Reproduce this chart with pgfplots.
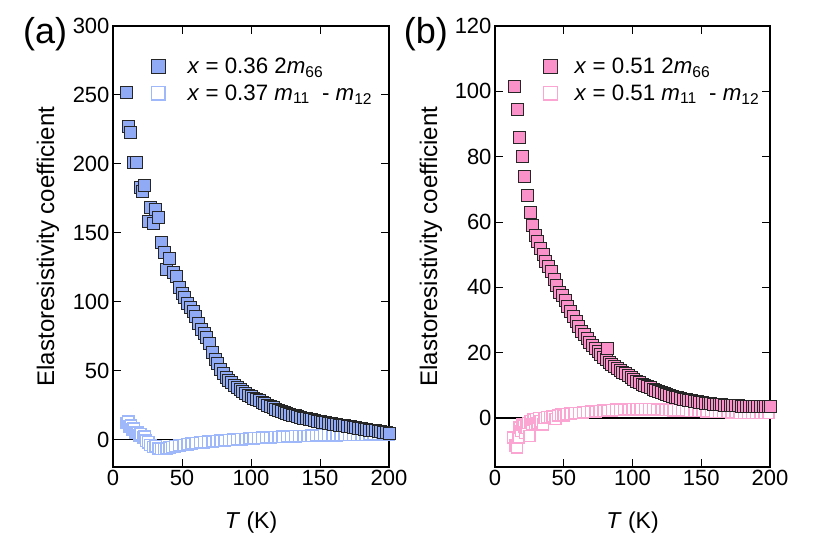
\documentclass[border=0pt]{standalone}
\usepackage{pgfplots}
\pgfplotsset{compat=1.18}
\usepackage{fontspec}
\setmainfont{Liberation Sans}
\definecolor{fblue}{RGB}{144,170,245}
\definecolor{oblue}{RGB}{158,184,250}
\definecolor{fpink}{RGB}{250,145,200}
\definecolor{opink}{RGB}{250,165,210}
\pgfplotsset{
  legimgw/.initial=40pt,
  panel/.style={
    scale only axis, anchor=south west,
    xmin=0, xmax=200, xtick={0,50,...,200},
    tick align=inside, major tick length=8pt,
    tick style={black, line width=1pt},
    axis line style={black, line width=1.2pt},
    ticklabel style={font=\fontsize{22}{26}\selectfont},
    /pgf/number format/assume math mode=true,
    xlabel={\textit{T} (K)},
    ylabel={Elastoresistivity coefficient},
    every axis x label/.style={at={(rel axis cs:0.5,0)}, anchor=center, yshift=-56pt, font=\fontsize{23}{27}\selectfont},
    legend style={draw=none, fill=none, font=\fontsize{22.3}{26}\selectfont, anchor=north west, row sep=6pt, inner sep=0pt,
      nodes={inner sep=2pt}},
    legend cell align=left,
    clip=false,
  },
  legcode/.style={legend image code/.code={\path (0pt,0pt) (\pgfkeysvalueof{/pgfplots/legimgw},0pt); \draw[mark repeat=2,mark phase=2,##1, mark size=6.8pt] plot coordinates {(0pt,0pt) (13pt,0pt) (26pt,0pt)};}},
  fmark/.style={only marks, mark=square*, mark size=6pt, mark options={draw=black!85, line width=0.9pt, fill=#1}, legcode},
  omark/.style={only marks, mark=square*, mark size=5.6pt, mark options={draw=#1, fill=white, line width=1.5pt}, legcode},
}
\begin{document}
\begin{tikzpicture}
\useasboundingbox (0,0) rectangle (830pt,547pt);
\begin{axis}[panel, at={(113pt,80pt)}, width=276pt, height=441pt,
  ymin=-20, ymax=300, ytick={0,50,...,300},
  every axis y label/.style={at={(rel axis cs:-0.236,0.5)}, rotate=90, anchor=center, font=\fontsize{24}{28}\selectfont},
  legend style={at={(rel axis cs:0.116,0.933)}}]
\addplot[black, line width=1.2pt, forget plot] coordinates {(0,0) (200,0)};
\addlegendimage{fmark=fblue}
\addlegendentry{\textit{x} = 0.36 2\textit{m}\textsubscript{66}}
\addlegendimage{omark=oblue}
\addlegendentry{\textit{x} = 0.37 \textit{m}\textsubscript{11}\ \ - \textit{m}\textsubscript{12}}
\addplot[omark=oblue, forget plot] coordinates {
(10,12) (11,13) (12,9.6) (13,10) (14,7) (15,8) (16.5,5) (18,5) (19,3) (20,4) (22,1.5) (23,2) (24,-1) (25.5,-2) (27,-4) (29,-5.5) (31,-5) (33,-6.5) (35,-7) (37,-7) (39,-6.5) (41,-6) (43,-5.5) (45,-5) (48,-4.5) (51,-4) (54,-3.5) (57,-3) (60,-2.5) (63,-2.2) (66,-2) (69,-1.7) (72,-1.5) (75,-1.2) (78,-1) (81,-0.7) (84,-0.4) (87,-0.2) (90,0) (93,0.2) (96,0.4) (99,0.6) (102,0.8) (105,1) (108,1.2) (111,1.4) (114,1.5) (117,1.7) (120,1.8) (123,2) (126,2.1) (129,2.2) (132,2.3) (135,2.4) (138,2.5) (141,2.6) (144,2.7) (147,2.8) (150,2.9) (153,3) (156,3) (159,3.1) (162,3.1) (165,3.2) (168,3.2) (171,3.3) (174,3.3) (177,3.4) (180,3.4) (183,3.4) (186,3.5) (189,3.5) (192,3.5) (195,3.6) (198,3.6) (200,3.6)};
\addplot[fmark=fblue, forget plot] coordinates {
(10,252) (11.5,227) (13,223) (15,201) (17,201) (20,183) (21,180) (23,184) (26,158) (27,168) (29,157) (31,167) (33,161) (35,143) (37,136) (39,123) (41,131) (44,121)
(46,118) (48,110) (50,106) (52,103) (54,99) (56,96) (58,93) (60,89) (62,84) (64,80) (66,77) (68,74) (70,70) (72,63) (74,58) (76,55) (78,51) (80,48) (82,45) (84,43) (86,41) (88,39.5) (90,38) (92,36) (94,35) (96,33.5) (98,32) (100,31) (102,30) (104,29) (106,28) (108,27) (110,26) (112,25) (114,24) (116,23) (118,22) (120,21) (122,20) (124,19.5) (126,19) (128,18.3) (130,17.7) (132,17.2) (134,16.6) (136,16) (138,15.5) (140,15) (142,14.6) (144,14.2) (146,13.8) (148,13.3) (150,13) (152,12.5) (154,12.2) (156,11.8) (158,11.4) (160,11) (162,10.7) (164,10.4) (166,10.1) (168,9.8) (170,9.5) (172,9.2) (174,8.9) (176,8.5) (178,8.2) (180,7.9) (182,7.5) (184,7.2) (186,6.8) (188,6.5) (190,6.2) (192,5.9) (194,5.6) (196,5.3) (198,5) (200,4.7)};
\node[font=\fontsize{36}{40}\selectfont] at (rel axis cs:-0.246,0.982) {(a)};
\end{axis}
\begin{axis}[panel, at={(495pt,80pt)}, width=275pt, height=441pt,
  ymin=-15, ymax=120, ytick={0,20,...,120}, legimgw=35pt,
  every axis y label/.style={at={(rel axis cs:-0.233,0.5)}, rotate=90, anchor=center, font=\fontsize{24}{28}\selectfont},
  legend style={at={(rel axis cs:0.153,0.933)}}]
\addplot[black, line width=1.2pt, forget plot] coordinates {(0,0) (200,0)};
\addlegendimage{fmark=fpink}
\addlegendentry{\textit{x} = 0.51 2\textit{m}\textsubscript{66}}
\addlegendimage{omark=opink}
\addlegendentry{\textit{x} = 0.51 \textit{m}\textsubscript{11}\ \ - \textit{m}\textsubscript{12}}
\addplot[omark=opink, forget plot] coordinates {
(13,-6) (15,-8.5) (16,-9) (17,-6) (18,-3) (19,-4) (20,-2) (21,-2.5) (22,-4.5) (23,-3) (24,-1.5) (25,-5.5) (26,-1) (27,-2) (28,-0.5) (29,-2) (30,-0.3) (31,-1.5) (32,0) (33,-1) (35,-2) (36,0) (38,0.3) (40,0.3) (42,0.5) (44,-0.3) (46,0.8) (48,1) (50,0.8) (52,1.2) (55,1.3) (58,1.5) (61,1.5) (64,1.7) (67,1.8) (70,1.9) (73,2) (76,2.1) (79,2.2) (82,2.3) (85,2.4) (88,2.5) (91,2.5) (94,2.6) (97,2.6) (100,2.7) (103,2.7) (106,2.7) (109,2.7) (112,2.7) (115,2.7) (118,2.6) (121,2.6) (124,2.5) (127,2.5) (130,2.4) (133,2.4) (136,2.3) (139,2.3) (142,2.2) (145,2.2) (148,2.1) (151,2.1) (154,2) (157,2) (160,1.9) (163,1.9) (166,1.8) (169,1.8) (172,1.7) (175,1.7) (178,1.6) (181,1.6) (184,1.6) (187,1.5) (190,1.5) (193,1.5) (196,1.5) (199,1.5)};
\addplot[fmark=fpink, forget plot] coordinates {
(14,101.5) (16,94.5) (18,86) (19.6,80) (21.5,74) (23.5,68) (25.5,63) (27.5,59) (29.5,56) (31,54) (33,52) (35,50) (37,48) (39,46.5) (41,45) (43,42.5) (45,40.5) (47,38.5) (49,37.5) (51,36) (53,34) (55,32.5) (57,31) (59,29.5) (61,28) (63,26.5) (65,25.5) (67,24.3) (69,23.2) (71,22.2) (73,21.2) (75,20.3) (77,19.4) (79,18.6) (81,17.8) (82,21.4) (83,17.1) (85,16.4) (87,15.8) (89,15.2) (91,14.6) (93,14) (95,13.5) (97,13) (99,12.4) (101,11.8) (103,11.3) (105,10.8) (107,10.4) (109,10) (111,9.6) (113,9.2) (115,8.8) (117,8.5) (119,8.1) (121,7.8) (123,7.5) (125,7.2) (127,6.9) (129,6.6) (131,6.4) (133,6.2) (135,6) (137,5.8) (139,5.6) (141,5.4) (143,5.3) (145,5.1) (147,5) (149,4.9) (151,4.7) (153,4.6) (155,4.5) (157,4.4) (159,4.3) (161,4.2) (163,4.1) (165,4) (167,3.95) (169,3.9) (171,3.85) (173,3.8) (175,3.75) (177,3.7) (179,3.65) (181,3.6) (183,3.55) (185,3.5) (187,3.5) (189,3.45) (191,3.45) (193,3.4) (195,3.4) (197,3.4) (199,3.4) (200,3.5)};
\node[font=\fontsize{36}{40}\selectfont] at (rel axis cs:-0.251,0.982) {(b)};
\end{axis}
\end{tikzpicture}
\end{document}
